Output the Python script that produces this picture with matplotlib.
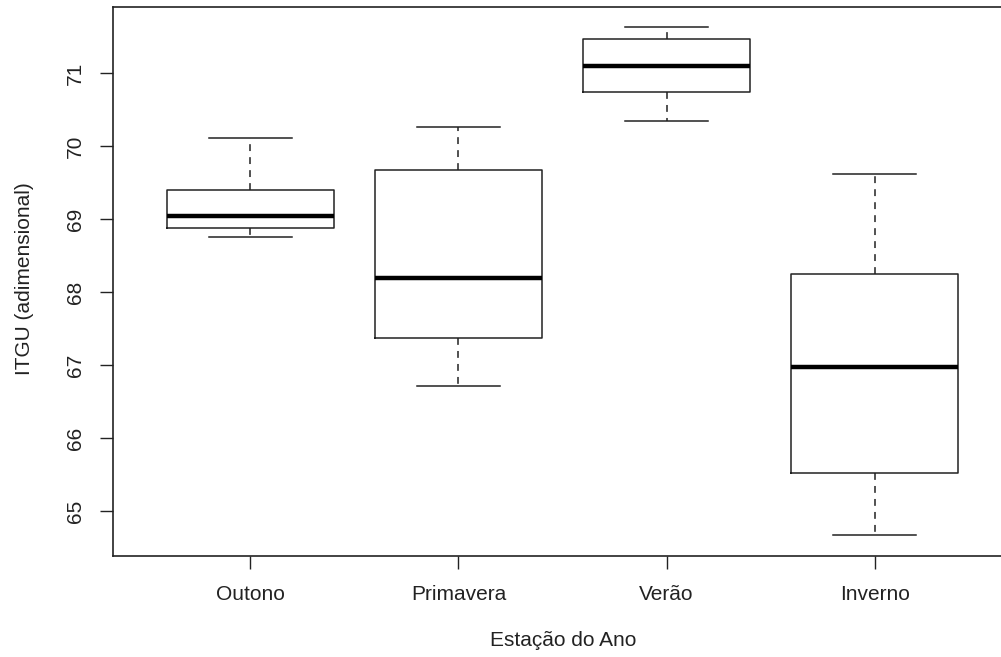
import numpy as np
import matplotlib
matplotlib.use("Agg")
import matplotlib.pyplot as plt

plt.rcParams['font.family'] = ['Liberation Sans', 'DejaVu Sans']

# valores
estacoes = ["Outono", "Primavera", "Verão", "Inverno"]
lim_inf = [68.75, 66.71, 70.34, 64.67]
q1 = [68.88, 67.37, 70.74, 65.53]
mediana = [69.04, 68.20, 71.10, 66.97]
q3 = [69.40, 69.67, 71.47, 68.25]
lim_sup = [70.11, 70.26, 71.63, 69.62]

stats = []
for i in range(len(estacoes)):
    stats.append({'label': estacoes[i], 'whislo': lim_inf[i], 'q1': q1[i],
                  'med': mediana[i], 'q3': q3[i], 'whishi': lim_sup[i],
                  'fliers': []})

fig = plt.figure(figsize=(10.01, 6.57), dpi=100)
# o quadro do R vai um pouco alem da borda direita da imagem
ax = fig.add_axes([0.1129, 0.154, 0.898, 0.836])

pos = np.arange(1, len(estacoes) + 1)
ax.bxp(stats, positions=pos, widths=0.8, capwidths=0.4, showfliers=False,
       boxprops=dict(color='#222222', linewidth=1.1),
       medianprops=dict(color='black', linewidth=3.2, solid_capstyle='butt'),
       whiskerprops=dict(color='#222222', linewidth=1.1, linestyle=(0, (4.5, 4))),
       capprops=dict(color='#222222', linewidth=1.1))

dados = lim_inf + lim_sup
amp = max(dados) - min(dados)
ax.set_ylim(min(dados) - 0.04 * amp, max(dados) + 0.04 * amp)
ax.set_xlim(0.5 - 0.16, 4.5 + 0.16)

ax.set_yticks([65, 66, 67, 68, 69, 70, 71])
ax.set_xticks(pos)
ax.set_xticklabels(estacoes)
for lbl in ax.get_yticklabels():
    lbl.set_rotation(90)
    lbl.set_va('center')
ax.tick_params(axis='y', length=9.5, width=1.0, pad=11, labelsize=15, colors='#222222')
ax.tick_params(axis='x', length=9, width=1.0, pad=12, labelsize=15, colors='#222222')
for s in ax.spines.values():
    s.set_linewidth(1.2)
    s.set_color('#222222')

fig.text(0.5625, 1 - 640 / 657, "Estação do Ano", ha='center', va='center',
         fontsize=15, color='#222222')
fig.text(25 / 1001, 1 - 279 / 657, "ITGU (adimensional)", ha='center', va='center',
         rotation=90, fontsize=15, color='#222222')

fig.savefig("out.png", dpi=100)
